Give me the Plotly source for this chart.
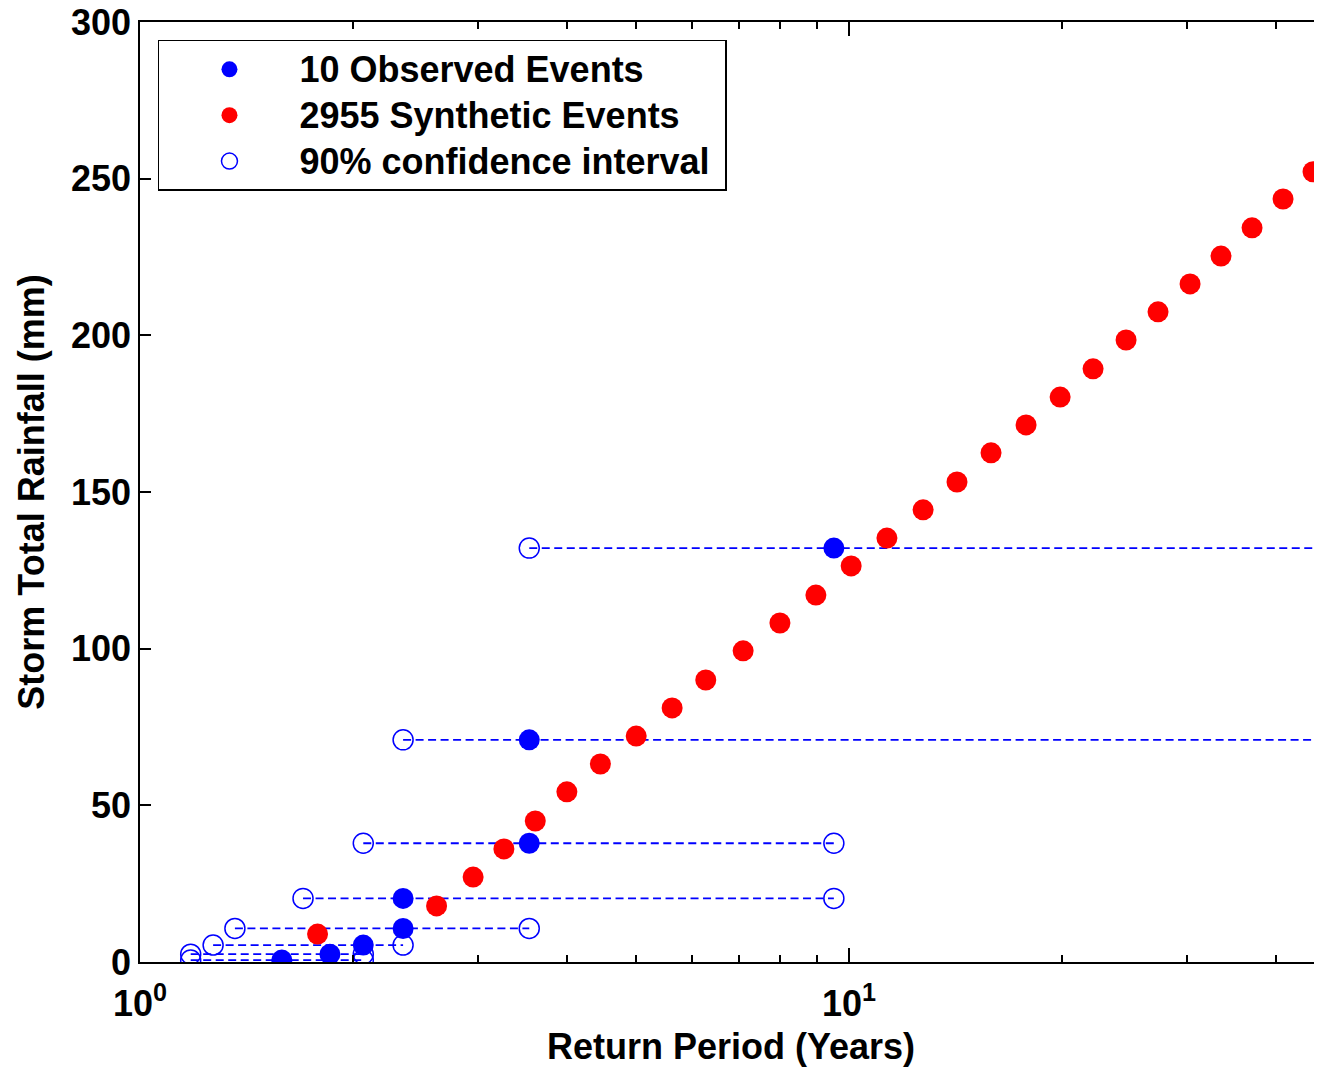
import plotly.graph_objects as go

# Synthetic events (red)
syn_rp = [1.78, 2.62, 2.95, 3.26, 3.61, 4.00, 4.46, 5.01, 5.63, 6.28, 7.09, 7.99, 8.98, 10.07,
          11.31, 12.72, 14.2, 15.86, 17.77, 19.85, 22.09, 24.59, 27.28, 30.27, 33.47, 37.02, 40.94, 45.13]
syn_rain = [8.9, 17.9, 27.1, 36.1, 45.0, 54.3, 63.2, 72.1, 81.1, 90.0, 99.3, 108.2, 117.1, 126.4,
            135.3, 144.3, 153.2, 162.5, 171.4, 180.3, 189.3, 198.5, 207.5, 216.4, 225.3, 234.3, 243.5, 252.2]

# Observed events (blue)
obs_rp = [1.585, 1.853, 2.065, 2.35, 2.35, 3.54, 3.54, 9.52]
obs_rain = [0.6, 2.5, 5.4, 10.7, 20.3, 37.9, 70.9, 132.1]

# 90% confidence interval bounds on return period
ci_low = [1.179, 1.179, 1.268, 1.361, 1.698, 2.065, 2.35, 3.54]
ci_high = [2.065, 2.065, 2.35, 3.54, 9.52, 9.52, 60.0, 60.0]

y_ticks = [0, 50, 100, 150, 200, 250, 300]
x_major = [1, 10]
x_major_text = ["10<sup>0</sup>", "10<sup>1</sup>"]
x_minor = [2, 3, 4, 5, 6, 7, 8, 9, 20, 30, 40]

legend_names = ["10 Observed Events", "2955 Synthetic Events", "90% confidence interval"]

FONT = "Liberation Sans"
BLUE = "#0000ff"
RED = "#ff0000"


def lg(name):
    return '<span style="font-size:36px">' + name + '</span>'


seg_x, seg_y = [], []
for lo, hi, r in zip(ci_low, ci_high, obs_rain):
    seg_x += [lo, hi, None]
    seg_y += [r, r, None]

fig = go.Figure()
fig.add_trace(go.Scatter(x=seg_x, y=seg_y, mode="lines", showlegend=False,
                         line=dict(color=BLUE, width=1.8, dash="8px,4.5px"), hoverinfo="skip"))
fig.add_trace(go.Scatter(x=ci_low + ci_high, y=obs_rain + obs_rain, mode="markers",
                         name=lg(legend_names[2] + "\u00a0"), legendrank=3,
                         marker=dict(symbol="circle-open", size=20, color=BLUE, line=dict(width=1.5, color=BLUE))))
fig.add_trace(go.Scatter(x=syn_rp, y=syn_rain, mode="markers", name=lg(legend_names[1]), legendrank=2,
                         marker=dict(symbol="circle", size=21, color=RED)))
fig.add_trace(go.Scatter(x=obs_rp, y=obs_rain, mode="markers", name=lg(legend_names[0]), legendrank=1,
                         marker=dict(symbol="circle", size=21, color=BLUE)))

# The page body adds an 8px margin, so the figure is sized/placed to compensate.
fig.update_layout(
    width=1314, height=1059,
    margin=dict(l=132, r=0, t=14, b=105, autoexpand=False),
    paper_bgcolor="white", plot_bgcolor="white",
    font=dict(family=FONT, size=36, color="black", weight="bold"),
    showlegend=True,
    legend=dict(x=0.0152, y=0.981, xanchor="left", yanchor="top",
                bgcolor="white", bordercolor="black", borderwidth=1.5,
                font=dict(family=FONT, size=33, color="black", weight="bold"),
                itemwidth=130, tracegroupgap=0),
    xaxis=dict(type="log", range=[0, 1.6671], showgrid=False, zeroline=False, automargin=False,
               showline=True, linecolor="black", linewidth=1.5, mirror="ticks",
               tickmode="array", tickvals=x_major, ticktext=x_major_text,
               ticks="inside", ticklen=14, tickwidth=1.5, tickcolor="black",
               ticklabelstandoff=9, ticklabeloverflow="allow",
               tickfont=dict(family=FONT, size=36, weight="bold"),
               minor=dict(tickmode="array", tickvals=x_minor, ticks="inside", ticklen=7,
                          tickwidth=1.5, tickcolor="black", showgrid=False),
               title=dict(text="Return Period (Years)", standoff=17,
                          font=dict(family=FONT, size=36, weight="bold"))),
    yaxis=dict(range=[0, 300], showgrid=False, zeroline=False, automargin=False,
               showline=True, linecolor="black", linewidth=1.5, mirror=False,
               tickmode="array", tickvals=y_ticks, ticklabeloverflow="allow",
               ticks="inside", ticklen=11, tickwidth=1.5, tickcolor="black",
               tickfont=dict(family=FONT, size=36, weight="bold"),
               title=dict(text="Storm Total Rainfall (mm)", standoff=15,
                          font=dict(family=FONT, size=36, weight="bold"))),
    yaxis2=dict(range=[0, 300], overlaying="y", side="right", anchor="x", automargin=False,
                showgrid=False, zeroline=False, showline=False, showticklabels=False,
                tickmode="array", tickvals=y_ticks, ticks="inside", ticklen=4,
                tickwidth=1.5, tickcolor="black"),
)

fig.write_html("out.html")
